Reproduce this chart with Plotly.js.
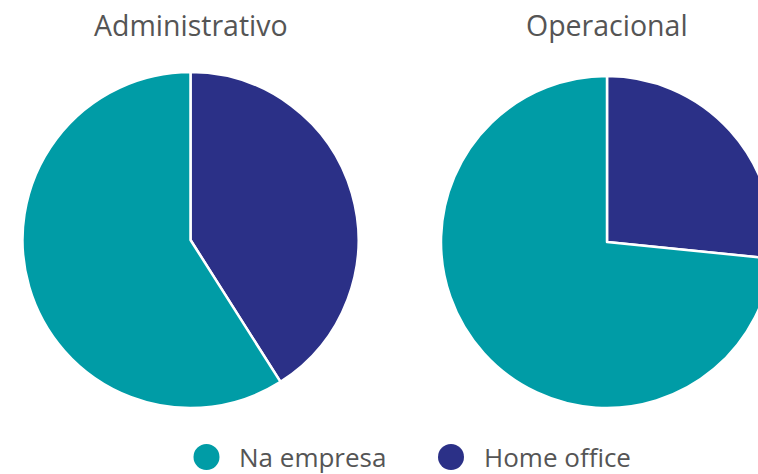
<!DOCTYPE html>
<html>
<head>
<meta charset="utf-8">
<script src="https://cdn.plot.ly/plotly-3.0.1.min.js"></script>
<style>
html,body{margin:0;padding:0;overflow:hidden;background:#fff;}
#chart{width:800px;height:474px;}
</style>
</head>
<body>
<div id="chart"></div>
<script>
// Data
var categories = ['Na empresa', 'Home office'];
var groups = ['Administrativo', 'Operacional'];
var administrativoValues = [59, 41];
var operacionalValues = [73.4, 26.6];
var colors = ['#009CA6', '#2B3087'];

var W = 800, H = 474;
function px(x){ return x / W; }
function py(y){ return 1 - y / H; }

// Home office slice is drawn first, clockwise from 12 o'clock
function rev(a){ return a.slice().reverse(); }

var common = {
  type: 'pie',
  labels: rev(categories),
  sort: false,
  direction: 'clockwise',
  rotation: 0,
  textinfo: 'none',
  hoverinfo: 'label+percent',
  showlegend: false,
  marker: {colors: rev(colors), line: {color: '#ffffff', width: 2.5}}
};

var trace1 = Object.assign({}, common, {
  name: groups[0],
  values: rev(administrativoValues),
  domain: {x: [px(22.5), px(358.5)], y: [py(408), py(72)]}
});
var trace2 = Object.assign({}, common, {
  name: groups[1],
  values: rev(operacionalValues),
  domain: {x: [px(441), px(773)], y: [py(408), py(76)]}
});

var titleFont = {family: '"Open Sans", sans-serif', size: 28.5, color: '#555555'};
var legendFont = {family: '"Open Sans", sans-serif', size: 26, color: '#555555'};

var annotations = [
  {text: groups[0], x: px(190.5), y: py(25), xref: 'paper', yref: 'paper', xanchor: 'center', yanchor: 'middle', showarrow: false, font: titleFont},
  {text: groups[1], x: px(607), y: py(25), xref: 'paper', yref: 'paper', xanchor: 'center', yanchor: 'middle', showarrow: false, font: titleFont},
  {text: categories[0], x: px(237), y: py(457), xref: 'paper', yref: 'paper', xanchor: 'left', yanchor: 'middle', showarrow: false, font: legendFont},
  {text: categories[1], x: px(482), y: py(457), xref: 'paper', yref: 'paper', xanchor: 'left', yanchor: 'middle', showarrow: false, font: legendFont}
];

function dot(cx, cy, color){
  return {type: 'circle', xref: 'paper', yref: 'paper', xsizemode: 'pixel', ysizemode: 'pixel',
    xanchor: px(cx), yanchor: py(cy), x0: -13, x1: 13, y0: -13, y1: 13,
    fillcolor: color, line: {width: 0}};
}

var layout = {
  width: W, height: H,
  margin: {l: 0, r: 0, t: 0, b: 0},
  paper_bgcolor: '#ffffff',
  showlegend: false,
  annotations: annotations,
  shapes: [dot(206.5, 457, colors[0]), dot(451, 457, colors[1])]
};

Plotly.newPlot('chart', [trace1, trace2], layout, {displayModeBar: false, staticPlot: true});
</script>
</body>
</html>
